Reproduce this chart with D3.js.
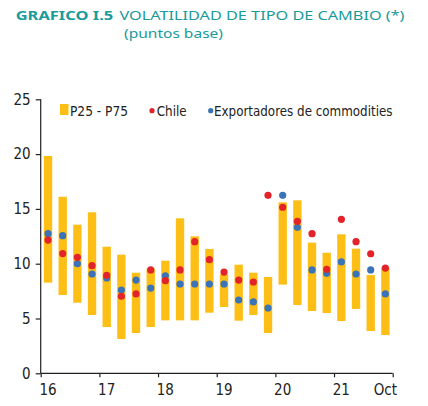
<!DOCTYPE html>
<html>
<head>
<meta charset="utf-8">
<script src="https://cdn.jsdelivr.net/npm/d3@7"></script>
<style>
  html, body { margin: 0; padding: 0; background: #fff; }
  svg { display: block; }
  .axis text { font-family: "DejaVu Sans Condensed", sans-serif; font-size: 15px; fill: #222; }
  .legend text { font-family: "DejaVu Sans Condensed", sans-serif; font-size: 14.5px; fill: #222; }
  .title { font-family: "Noto Sans", "Open Sans", sans-serif; font-size: 13px; fill: #1A9A9A; }
</style>
</head>
<body>
<script>
// ---- data ----
const quarters = ["16T1","16T2","16T3","16T4","17T1","17T2","17T3","17T4",
                  "18T1","18T2","18T3","18T4","19T1","19T2","19T3","19T4",
                  "20T1","20T2","20T3","20T4","21T1","21T2","21T3","21Oct"];
const p25 = [8.27, 7.14, 6.44, 5.32, 4.22, 3.13, 3.68, 4.22,
             4.83, 4.83, 4.83, 5.53, 6.05, 4.80, 5.32, 3.68,
             8.09, 6.23, 5.68, 5.50, 4.77, 5.87, 3.86, 3.49];
const p75 = [19.83, 16.11, 13.56, 14.69, 11.55, 10.82, 9.18, 9.55,
             10.27, 14.14, 12.50, 11.34, 9.03, 9.91, 9.18, 8.79,
             15.60, 15.78, 11.92, 11.00, 12.68, 11.37, 8.97, 9.64];
const chile = [12.16, 10.92, 10.58, 9.82, 8.94, 7.03, 7.24, 9.43,
               8.45, 9.43, 12.01, 10.37, 9.24, 8.51, 8.33, 16.24,
               15.15, 13.87, 12.74, 9.49, 14.05, 12.01, 10.91, 9.60];
const exportadores = [12.74, 12.56, 10.00, 9.06, 8.70, 7.60, 8.51, 7.78,
                      8.90, 8.15, 8.15, 8.15, 8.15, 6.69, 6.51, 5.96,
                      16.24, 13.32, 9.43, 9.12, 10.16, 9.06, 9.43, 7.24];
const xTickLabels = {"16T1":"16","17T1":"17","18T1":"18","19T1":"19","20T1":"20","21T1":"21","21Oct":"Oct"};
const yTicks = [0, 5, 10, 15, 20, 25];
const legendLabels = ["P25 - P75", "Chile", "Exportadores de commodities"];

// ---- layout ----
const W = 428, H = 406;
const colBar = "#FDBE16", colRed = "#E3232A", colBlue = "#3B73B9";
const mLeft = 40.7, mRight = 392.7, mTop = 99.3, mBottom = 373.3;

const svg = d3.select("body").append("svg").attr("width", W).attr("height", H);

// title
svg.append("text").attr("class", "title").attr("x", 15.7).attr("y", 20)
  .style("font-weight", "bold").attr("textLength", 97.5).attr("lengthAdjust", "spacingAndGlyphs")
  .text("GRAFICO I.5");
svg.append("text").attr("class", "title").attr("x", 119.5).attr("y", 20)
  .attr("textLength", 285).attr("lengthAdjust", "spacingAndGlyphs")
  .text("VOLATILIDAD DE TIPO DE CAMBIO (*)");
svg.append("text").attr("class", "title").attr("x", 124).attr("y", 37.8)
  .attr("textLength", 99).attr("lengthAdjust", "spacingAndGlyphs")
  .text("(puntos base)");

const x = d3.scaleBand().domain(quarters).range([mLeft, mRight]).paddingInner(0.43).paddingOuter(0.215);
const xb = d3.scaleLinear().domain([0, quarters.length]).range([mLeft, mRight]);
const y = d3.scaleLinear().domain([0, 25]).range([mBottom, mTop]);

// bars
svg.append("g").selectAll("rect").data(quarters).join("rect")
  .attr("x", d => x(d)).attr("width", x.bandwidth())
  .attr("y", (d, i) => y(p75[i])).attr("height", (d, i) => y(p25[i]) - y(p75[i]))
  .attr("fill", colBar);

// dots
const cx = d => x(d) + x.bandwidth() / 2;
svg.append("g").selectAll("circle").data(quarters).join("circle")
  .attr("cx", cx).attr("cy", (d, i) => y(exportadores[i])).attr("r", 3.6).attr("fill", colBlue);
svg.append("g").selectAll("circle").data(quarters).join("circle")
  .attr("cx", cx).attr("cy", (d, i) => y(chile[i])).attr("r", 3.6).attr("fill", colRed);

// y axis
const yAxis = svg.append("g").attr("class", "axis").attr("transform", `translate(${mLeft},0)`)
  .call(d3.axisLeft(y).tickValues(yTicks).tickSize(5).tickPadding(5));
yAxis.selectAll("path,line").attr("stroke", "#222").attr("stroke-width", 1.2);
yAxis.select(".domain").attr("d", `M0,${mTop}V${mBottom}`);

// x axis: boundary ticks
const xAxisB = svg.append("g").attr("class", "axis").attr("transform", `translate(0,${mBottom})`)
  .call(d3.axisBottom(xb).tickValues(d3.range(0, quarters.length + 1, 4)).tickSize(4).tickFormat(""));
xAxisB.selectAll("path,line").attr("stroke", "#222").attr("stroke-width", 1.2);
xAxisB.select(".domain").attr("d", `M${mLeft},0H${mRight}`);
// x axis labels
const xAxisL = svg.append("g").attr("class", "axis").attr("transform", `translate(0,${mBottom})`)
  .call(d3.axisBottom(x).tickValues(Object.keys(xTickLabels)).tickSize(0).tickPadding(11)
    .tickFormat(d => xTickLabels[d]));
xAxisL.select(".domain").remove();

// legend
const lg = svg.append("g").attr("class", "legend");
lg.append("rect").attr("x", 60).attr("y", 104).attr("width", 8.5).attr("height", 11).attr("fill", colBar);
lg.append("text").attr("x", 70).attr("y", 115.5).attr("textLength", 58).attr("lengthAdjust", "spacingAndGlyphs").text(legendLabels[0]);
lg.append("circle").attr("cx", 152).attr("cy", 110.7).attr("r", 2.6).attr("fill", colRed);
lg.append("text").attr("x", 156.7).attr("y", 115.5).attr("textLength", 30).attr("lengthAdjust", "spacingAndGlyphs").text(legendLabels[1]);
lg.append("circle").attr("cx", 210.7).attr("cy", 110.7).attr("r", 2.6).attr("fill", colBlue);
lg.append("text").attr("x", 214).attr("y", 115.5).attr("textLength", 178.5).attr("lengthAdjust", "spacingAndGlyphs").text(legendLabels[2]);
</script>
</body>
</html>
